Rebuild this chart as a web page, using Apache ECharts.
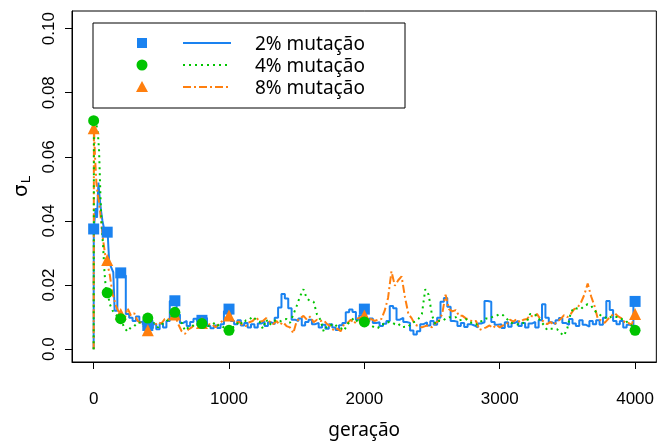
<!DOCTYPE html>
<html>
<head>
<meta charset="utf-8">
<script src="https://cdn.jsdelivr.net/npm/echarts@6/dist/echarts.min.js"></script>
<style>
  html, body { margin: 0; padding: 0; background: #fff; }
  #chart { width: 657px; height: 445px; }
</style>
</head>
<body>
<div id="chart"></div>
<script>
// Generations sampled: dense at the start, then every 25 generations
const earlyGenerations = [0, 2, 10, 20, 30, 40, 50, 60, 70, 80, 90, 100, 110, 120, 130, 140, 150, 160, 170, 180, 190];
const laterGenerations = [];
for (let g = 200; g <= 4000; g += 25) laterGenerations.push(g);
const generations = earlyGenerations.concat(laterGenerations);

// sigma_L, 2% mutation
const sigma2 = [
  0.000, 0.0375, 0.040, 0.044, 0.041, 0.052, 0.047, 0.043, 0.040, 0.038, 0.036,
  0.036, 0.035, 0.027, 0.026, 0.025, 0.024, 0.012, 0.012, 0.024, 0.024,
  0.024, 0.023, 0.011, 0.0098, 0.0088, 0.0102, 0.0085, 0.0078,
  0.0074, 0.0065, 0.0078, 0.0062, 0.008, 0.0068, 0.0088, 0.015,
  0.0151, 0.0108, 0.0082, 0.0088, 0.0072, 0.0085, 0.0095, 0.0088,
  0.0092, 0.0098, 0.0072, 0.0065, 0.0074, 0.0066, 0.0078, 0.0118,
  0.0125, 0.0088, 0.0078, 0.009, 0.0074, 0.0082, 0.0068, 0.0078,
  0.0068, 0.008, 0.0086, 0.0072, 0.0084, 0.0078, 0.0098, 0.013,
  0.0172, 0.0158, 0.0128, 0.0092, 0.0088, 0.0096, 0.0074, 0.0085,
  0.0092, 0.0078, 0.0082, 0.0068, 0.0076, 0.0064, 0.0078, 0.0068,
  0.006, 0.0075, 0.0082, 0.0115, 0.0124, 0.0116, 0.0092, 0.0106,
  0.0125, 0.0088, 0.0096, 0.0082, 0.0084, 0.0072, 0.0079, 0.0088,
  0.0135, 0.0128, 0.0092, 0.0098, 0.0085, 0.0082, 0.0058, 0.0046,
  0.0056, 0.0078, 0.0084, 0.0074, 0.0088, 0.0076, 0.0098, 0.0148,
  0.016, 0.0132, 0.0088, 0.0086, 0.0072, 0.0082, 0.0069, 0.0078,
  0.0074, 0.0068, 0.008, 0.0084, 0.015, 0.0148, 0.0085, 0.0076,
  0.0078, 0.0066, 0.0084, 0.007, 0.0082, 0.0088, 0.0072, 0.0082,
  0.0068, 0.008, 0.0085, 0.0068, 0.009, 0.014, 0.0098, 0.0084,
  0.0078, 0.009, 0.0097, 0.0082, 0.0076, 0.0094, 0.008, 0.0072,
  0.009, 0.0076, 0.007, 0.0088, 0.0078, 0.009, 0.0076, 0.0098,
  0.015, 0.0122, 0.0088, 0.0078, 0.0088, 0.0068, 0.0076, 0.007,
  0.0149
];

// sigma_L, 4% mutation
const sigma4 = [
  0.000, 0.0713, 0.071, 0.070, 0.068, 0.062, 0.048, 0.038, 0.032, 0.024, 0.019,
  0.0176, 0.016, 0.014, 0.013, 0.012, 0.0115, 0.011, 0.0105, 0.010, 0.0098,
  0.0095, 0.0068, 0.0055, 0.0068, 0.0072, 0.0084, 0.0082, 0.0095,
  0.0097, 0.0088, 0.008, 0.0068, 0.0078, 0.0082, 0.0092, 0.0102,
  0.0115, 0.0092, 0.0082, 0.0058, 0.0068, 0.007, 0.008, 0.0078,
  0.0082, 0.0072, 0.0072, 0.0076, 0.0084, 0.0072, 0.0072, 0.0062,
  0.0059, 0.0068, 0.0072, 0.0088, 0.0078, 0.009, 0.0092, 0.0102,
  0.0092, 0.0086, 0.0064, 0.0092, 0.0076, 0.0088, 0.009, 0.0086,
  0.0092, 0.0094, 0.0082, 0.0108, 0.0135, 0.0165, 0.0187, 0.0158,
  0.015, 0.0148, 0.0108, 0.0092, 0.0055, 0.0072, 0.0074, 0.008,
  0.007, 0.0066, 0.0058, 0.0078, 0.0088, 0.0098, 0.0086, 0.0088,
  0.0085, 0.0078, 0.0074, 0.0068, 0.0066, 0.0078, 0.0078, 0.0084,
  0.0085, 0.0078, 0.008, 0.0068, 0.007, 0.007, 0.0082, 0.0086,
  0.0095, 0.011, 0.0187, 0.017, 0.0105, 0.0078, 0.0088, 0.0088,
  0.0095, 0.010, 0.0098, 0.010, 0.009, 0.0092, 0.0094, 0.0084,
  0.0082, 0.0076, 0.0086, 0.0088, 0.0096, 0.0096, 0.0102, 0.0104,
  0.011, 0.0106, 0.0096, 0.0084, 0.008, 0.0078, 0.0076, 0.0082,
  0.0086, 0.011, 0.0106, 0.0106, 0.0088, 0.0076, 0.006, 0.0064,
  0.0064, 0.0062, 0.005, 0.0042, 0.0066, 0.0115, 0.013, 0.0126,
  0.0125, 0.0136, 0.014, 0.0136, 0.012, 0.0112, 0.0104, 0.010,
  0.0094, 0.0102, 0.010, 0.010, 0.0094, 0.0092, 0.008, 0.0074,
  0.0059
];

// sigma_L, 8% mutation
const sigma8 = [
  0.000, 0.069, 0.060, 0.052, 0.048, 0.046, 0.042, 0.038, 0.034, 0.031, 0.028,
  0.0275, 0.025, 0.023, 0.020, 0.017, 0.016, 0.014, 0.013, 0.012, 0.0115,
  0.011, 0.0088, 0.0128, 0.0105, 0.0112, 0.0088, 0.0082, 0.0068,
  0.006, 0.0068, 0.0074, 0.0084, 0.008, 0.0094, 0.0092, 0.011,
  0.0108, 0.0078, 0.0056, 0.0048, 0.0062, 0.0068, 0.0078, 0.0076,
  0.0085, 0.0092, 0.0078, 0.0078, 0.0068, 0.0078, 0.0088, 0.0098,
  0.0105, 0.0092, 0.0082, 0.0086, 0.0074, 0.0072, 0.0084, 0.0088,
  0.010, 0.0086, 0.0088, 0.0097, 0.0086, 0.0078, 0.0088, 0.0076,
  0.0084, 0.0072, 0.0068, 0.005, 0.0088, 0.0096, 0.0104, 0.0092,
  0.0102, 0.0084, 0.0092, 0.0088, 0.009, 0.0078, 0.0072, 0.0058,
  0.0064, 0.0056, 0.0078, 0.0082, 0.0092, 0.008, 0.0096, 0.010,
  0.0105, 0.0092, 0.0094, 0.0088, 0.0092, 0.0094, 0.012, 0.016,
  0.0243, 0.0198, 0.0215, 0.0227, 0.0162, 0.011, 0.0096, 0.0076,
  0.0072, 0.0068, 0.0072, 0.0074, 0.0068, 0.0082, 0.0088, 0.011,
  0.017, 0.0125, 0.0118, 0.0122, 0.0104, 0.0104, 0.0096, 0.0092,
  0.0086, 0.0088, 0.006, 0.0064, 0.0068, 0.0074, 0.0066, 0.0076,
  0.0068, 0.0074, 0.0076, 0.0092, 0.0086, 0.0094, 0.0084, 0.0092,
  0.0094, 0.0106, 0.010, 0.011, 0.0094, 0.0086, 0.0078, 0.0085,
  0.0076, 0.0086, 0.0094, 0.0106, 0.010, 0.011, 0.0125, 0.013,
  0.0145, 0.017, 0.0205, 0.0165, 0.0135, 0.0094, 0.009, 0.0082,
  0.0094, 0.0104, 0.0112, 0.0102, 0.0096, 0.0084, 0.0082, 0.0076,
  0.011
];

// Highlighted generations with their symbols
const markerGenerations = [0, 100, 200, 400, 600, 800, 1000, 2000, 4000];
const marker2 = [0.0375, 0.0365, 0.0238, 0.0074, 0.0151, 0.0090, 0.0125, 0.0125, 0.0149];
const marker4 = [0.0713, 0.0176, 0.0095, 0.0097, 0.0115, 0.0080, 0.0059, 0.0085, 0.0059];
const marker8 = [0.0689, 0.0278, 0.0110, 0.0059, 0.0108, 0.0082, 0.0105, 0.0105, 0.0110];

const xTicks = [0, 1000, 2000, 3000, 4000];
const yTicks = [0, 0.02, 0.04, 0.06, 0.08, 0.10];
const legendLabels = ['2% mutação', '4% mutação', '8% mutação'];

const BLUE = '#1a82f0';
const GREEN = '#00c400';
const ORANGE = '#ff7f0e';

function pairs(xs, ys) {
  const out = [];
  for (let i = 0; i < Math.min(xs.length, ys.length); i++) out.push([xs[i], ys[i]]);
  return out;
}

const chart = echarts.init(document.getElementById('chart'), null, { renderer: 'canvas' });

const lineBase = { type: 'line', showSymbol: false, silent: true, animation: false };
const markBase = { type: 'scatter', silent: true, animation: false };

const LX = 93, LY = 23;
const legendRows = [45, 67, 89];

chart.setOption({
  animation: false,
  grid: { left: 72, top: 11, width: 585, height: 358, show: true, borderColor: '#000', borderWidth: 1, backgroundColor: '#fff' },
  xAxis: {
    type: 'value', min: -160, max: 4157,
    axisLine: { show: true, onZero: false, lineStyle: { color: '#000', width: 1 } },
    axisTick: { show: true, length: 7, lineStyle: { color: '#000' }, customValues: xTicks },
    axisLabel: {
      customValues: xTicks, color: '#000', fontFamily: 'Liberation Sans', fontSize: 17, margin: 29,
      formatter: v => String(Math.round(v))
    },
    splitLine: { show: false },
    name: 'geração', nameLocation: 'middle', nameGap: 59,
    nameTextStyle: { fontFamily: 'Noto Sans', fontSize: 19, color: '#000' }
  },
  yAxis: {
    type: 'value', min: -0.004, max: 0.1055,
    axisLine: { show: true, onZero: false, lineStyle: { color: '#000', width: 1 } },
    axisTick: { show: true, length: 7, lineStyle: { color: '#000' }, customValues: yTicks },
    axisLabel: {
      customValues: yTicks, rotate: 90, color: '#000', fontFamily: 'Liberation Sans', fontSize: 17, margin: 14,
      formatter: v => (Math.abs(v) < 1e-9 ? '0.0' : v.toFixed(2))
    },
    splitLine: { show: false },
    name: '{s|σ}{sub|L}', nameLocation: 'middle', nameGap: 33, nameRotate: 90,
    nameTextStyle: {
      rich: {
        s: { fontFamily: 'DejaVu Sans', fontSize: 20, color: '#000' },
        sub: { fontFamily: 'DejaVu Sans', fontSize: 13, color: '#000', padding: [10, 0, 0, 1] }
      }
    }
  },
  series: [
    Object.assign({}, lineBase, { name: legendLabels[0], data: pairs(generations, sigma2), step: 'middle', lineStyle: { color: BLUE, width: 2 }, z: 2 }),
    Object.assign({}, lineBase, { name: legendLabels[2], data: pairs(generations, sigma8), lineStyle: { color: ORANGE, width: 2, type: [8, 3, 2, 3] }, z: 3 }),
    Object.assign({}, lineBase, { name: legendLabels[1], data: pairs(generations, sigma4), lineStyle: { color: GREEN, width: 2, type: [2, 4] }, z: 4 }),
    Object.assign({}, markBase, { data: pairs(markerGenerations, marker2), symbol: 'rect', symbolSize: 11, itemStyle: { color: BLUE, opacity: 1 }, z: 5 }),
    Object.assign({}, markBase, { data: pairs(markerGenerations, marker8), symbol: 'triangle', symbolSize: 12, itemStyle: { color: ORANGE, opacity: 1 }, z: 6 }),
    Object.assign({}, markBase, { data: pairs(markerGenerations, marker4), symbol: 'circle', symbolSize: 11, itemStyle: { color: GREEN, opacity: 1 }, z: 7 })
  ],
  graphic: [
    { type: 'rect', shape: { x: LX, y: LY, width: 312, height: 85 }, style: { fill: '#fff', stroke: '#000', lineWidth: 1 }, z: 100 },
    { type: 'rect', shape: { x: 137, y: legendRows[0] - 7, width: 10, height: 10 }, style: { fill: BLUE }, z: 101 },
    { type: 'circle', shape: { cx: 142, cy: legendRows[1] - 2, r: 5.5 }, style: { fill: GREEN }, z: 101 },
    { type: 'polygon', shape: { points: [[142, legendRows[2] - 8], [136, legendRows[2] + 3], [148, legendRows[2] + 3]] }, style: { fill: ORANGE }, z: 101 },
    { type: 'line', shape: { x1: 183, y1: legendRows[0] - 2, x2: 231, y2: legendRows[0] - 2 }, style: { stroke: BLUE, lineWidth: 1.8 }, z: 101 },
    { type: 'line', shape: { x1: 183, y1: legendRows[1] - 2, x2: 231, y2: legendRows[1] - 2 }, style: { stroke: GREEN, lineWidth: 1.8, lineDash: [2, 4] }, z: 101 },
    { type: 'line', shape: { x1: 183, y1: legendRows[2] - 2, x2: 231, y2: legendRows[2] - 2 }, style: { stroke: ORANGE, lineWidth: 1.8, lineDash: [8, 3, 2, 3] }, z: 101 },
    { type: 'text', x: 255, y: legendRows[0], style: { text: legendLabels[0], fontFamily: 'Noto Sans', fontSize: 19, fill: '#000', verticalAlign: 'middle' }, z: 101 },
    { type: 'text', x: 255, y: legendRows[1], style: { text: legendLabels[1], fontFamily: 'Noto Sans', fontSize: 19, fill: '#000', verticalAlign: 'middle' }, z: 101 },
    { type: 'text', x: 255, y: legendRows[2], style: { text: legendLabels[2], fontFamily: 'Noto Sans', fontSize: 19, fill: '#000', verticalAlign: 'middle' }, z: 101 }
  ]
});
</script>
</body>
</html>
